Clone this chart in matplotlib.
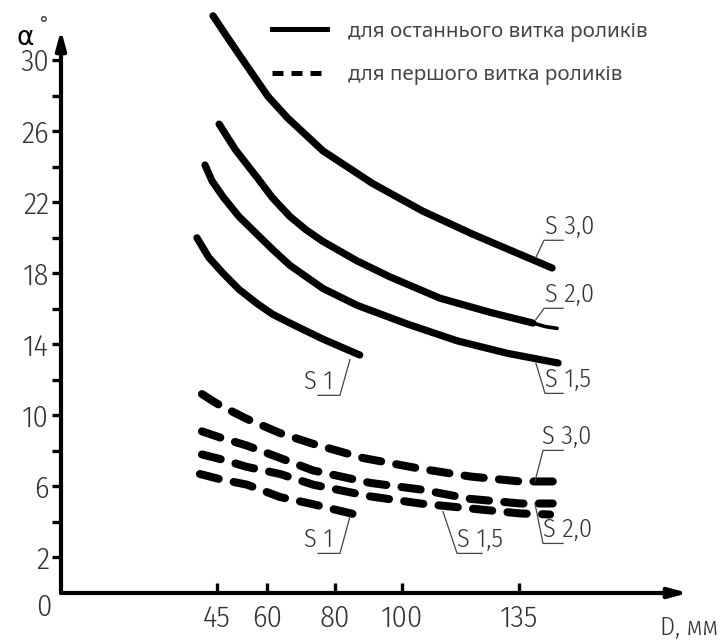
import matplotlib
matplotlib.use('Agg')
import matplotlib.pyplot as plt
import matplotlib.font_manager as fm
from matplotlib.ft2font import FT2Font
from matplotlib.lines import Line2D

# Дані: D, мм -> кут alpha, градуси
# суцільні лінії (останній виток роликів)
d_s30 = [43.8, 47.5, 51.8, 56.0, 60.2, 66.0, 76.5, 91.4, 106.3, 121.2, 136.1, 144.8]
a_s30 = [32.5, 31.45, 30.25, 29.1, 27.95, 26.75, 24.9, 23.05, 21.5, 20.2, 19.0, 18.3]

d_s20 = [45.6, 50.5, 56.9, 61.5, 66.7, 71.5, 76.5, 86.7, 96.5, 111.4, 126.4, 139.1]
a_s20 = [26.4, 24.95, 23.4, 22.25, 21.2, 20.45, 19.8, 18.7, 17.8, 16.6, 15.8, 15.2]
d_s20_tail = [139.1, 142.8, 146.3]
a_s20_tail = [15.2, 15.0, 14.9]

d_s15 = [41.4, 43.5, 46.8, 51.5, 56.9, 61.5, 66.7, 76.5, 86.7, 101.6, 116.5, 131.4, 146.6]
a_s15 = [24.1, 23.2, 22.3, 21.2, 20.2, 19.35, 18.45, 17.15, 16.2, 15.15, 14.2, 13.5, 12.95]

d_s10 = [39.0, 42.5, 46.8, 51.5, 56.9, 61.5, 66.7, 76.5, 87.5]
a_s10 = [20.0, 18.9, 18.0, 17.1, 16.3, 15.7, 15.2, 14.3, 13.4]

# штрихові лінії (перший виток роликів)
d_p30 = [40.5, 43.8, 46.0, 53.9, 63.8, 73.6, 88.5, 105.5, 120.4, 135.3, 145.0]
a_p30 = [11.2, 10.8, 10.55, 9.8, 9.0, 8.4, 7.6, 7.0, 6.56, 6.28, 6.28]

d_p20 = [40.5, 46.0, 53.9, 63.8, 73.6, 90.6, 105.5, 120.4, 135.3, 145.0]
a_p20 = [9.1, 8.75, 8.3, 7.6, 6.9, 6.2, 5.83, 5.3, 5.04, 5.04]

d_p15 = [40.5, 46.8, 53.9, 63.8, 73.6, 90.6, 105.5, 120.4, 135.3, 144.2]
a_p15 = [7.8, 7.5, 7.1, 6.7, 6.1, 5.44, 5.04, 4.76, 4.48, 4.42]

d_p10 = [39.9, 46.0, 53.9, 63.8, 73.6, 80.0, 86.7]
a_p10 = [6.7, 6.4, 6.1, 5.4, 5.0, 4.7, 4.4]

x_ticks = [45, 60, 80, 100, 135]
y_major = [2, 6, 10, 14, 18, 22, 26, 30]
y_minor = [4, 8, 12, 16, 20, 24, 28]

legend_labels = ['для останнього витка роликів', 'для першого витка роликів']

txt = '#333333'


def has_cyrillic(path):
    try:
        return 0x43C in FT2Font(path).get_charmap()
    except Exception:
        return False


# вузький шрифт, схожий на креслярський (з кирилицею)
def narrow_font(size):
    cands = []
    for f in fm.fontManager.ttflist:
        st = str(f.stretch)
        nm = f.name
        is_narrow = ('Narrow' in nm or 'Condensed' in nm
                     or st in ('condensed', 'semi-condensed', 'extra-condensed'))
        if not is_narrow or f.style != 'normal' or 'Mono' in nm or 'Serif' in nm:
            continue
        w = f.weight if isinstance(f.weight, int) else fm.weight_dict.get(f.weight, 400)
        score = abs(w - 330) / 100.0
        if st == 'extra-condensed' or 'Extra' in nm:
            score += 0.8
        if 'Noto Sans' not in nm and 'Liberation' not in nm and 'DejaVu' not in nm:
            score += 0.3
        cands.append((score, f.fname))
    for score, path in sorted(cands):
        if has_cyrillic(path):
            return fm.FontProperties(fname=path, size=size)
    return fm.FontProperties(family='DejaVu Sans', size=size * 0.88)


fp_tick = narrow_font(22)
fp_lab = narrow_font(19)

fig = plt.figure(figsize=(7.21, 6.42), dpi=100)
ax = fig.add_axes([61 / 721, 49 / 642, 627 / 721, 563 / 642])
ax.set_xlim(-1.5, 185.3)
ax.set_ylim(0, 31.7)

solid_kw = dict(color='black', lw=5.2, solid_capstyle='round', solid_joinstyle='round', clip_on=False)
for d, a in [(d_s30, a_s30), (d_s20, a_s20), (d_s15, a_s15), (d_s10, a_s10)]:
    ax.plot(d, a, **solid_kw)
ax.plot(d_s20_tail, a_s20_tail, color='black', lw=2.6, solid_capstyle='round')

for d, a in [(d_p30, a_p30), (d_p20, a_p20), (d_p15, a_p15), (d_p10, a_p10)]:
    ln, = ax.plot(d, a, color='black', lw=5.8, dash_capstyle='round', dash_joinstyle='round')
    ln.set_dashes((2.4, 1.9))

# вісі зі стрілками
for s in ax.spines.values():
    s.set_visible(False)
arrow = dict(arrowstyle='-|>,head_length=1.1,head_width=0.3', lw=3, color='black',
             shrinkA=0, shrinkB=0)
ax.annotate('', xy=(0, 1), xytext=(0, 0), xycoords='axes fraction', arrowprops=arrow)
ax.annotate('', xy=(1, 0), xytext=(0, 0), xycoords='axes fraction', arrowprops=arrow)

ax.set_xticks(x_ticks)
ax.set_xticklabels([str(v) for v in x_ticks])
ax.set_yticks(y_major)
ax.set_yticklabels([str(v) for v in y_major])
ax.set_yticks(y_minor, minor=True)
ax.tick_params(axis='x', direction='in', length=7, width=2.4, pad=8, labelcolor=txt)
ax.tick_params(axis='y', which='both', direction='out', length=6.5, width=2.4, pad=2, labelcolor=txt)
for lbl in ax.get_xticklabels() + ax.get_yticklabels():
    lbl.set_fontproperties(fp_tick)

ax.text(-6.5, -0.8, '0', ha='center', va='center', fontproperties=fp_tick, color=txt, clip_on=False)
fig.text(718 / 721, 1 - 628 / 642, 'D, мм', ha='right', va='center', fontproperties=fp_lab, color=txt)
fig.text(25 / 721, 1 - 38 / 642, 'α', ha='center', va='center', fontsize=19, color='black',
         family='DejaVu Sans')
fig.text(43 / 721, 1 - 25 / 642, '°', ha='center', va='center', fontsize=14, color=txt)

# легенда
handles = [Line2D([], [], color='black', lw=3.6),
           Line2D([], [], color='black', lw=3.6, dashes=(2.2, 1.6))]
fig.legend(handles, legend_labels, loc='upper left', bbox_to_anchor=(253 / 721, 1 - 3 / 642),
           frameon=False, handlelength=2.7, handletextpad=1.0, labelspacing=1.15,
           prop=dict(family=['Noto Sans', 'DejaVu Sans'], weight='light', size=14.8),
           labelcolor='#444444')

# підписи кривих з виносками
lead = dict(color='#444444', lw=0.9, clip_on=False)
labels = [
    ('S 3,0', [140.0, 142.4, 148.1], [18.9, 19.86, 19.86], 142.6, 19.95),
    ('S 2,0', [140.0, 142.4, 148.1], [15.4, 16.03, 16.03], 142.6, 16.1),
    ('S 1,5', [140.0, 142.7, 148.1], [12.93, 11.24, 11.24], 142.6, 11.3),
    ('S 1', [84.6, 81.6, 75.1], [13.15, 11.13, 11.13], 71.0, 11.2),
    ('S 3,0', [139.7, 142.1, 148.1], [6.28, 8.03, 8.03], 141.8, 8.1),
    ('S 2,0', [139.7, 142.1, 148.1], [5.04, 2.79, 2.79], 142.2, 2.85),
    ('S 1,5', [112.3, 116.5, 124.0], [4.59, 2.23, 2.23], 116.6, 2.3),
    ('S 1', [84.6, 81.6, 75.1], [4.31, 2.23, 2.23], 71.0, 2.3),
]
for t, lx, ly, tx, ty in labels:
    ax.plot(lx, ly, **lead)
    ax.text(tx, ty, t, ha='left', va='bottom', fontproperties=fp_lab, color=txt)

fig.savefig('out.png', dpi=100)
